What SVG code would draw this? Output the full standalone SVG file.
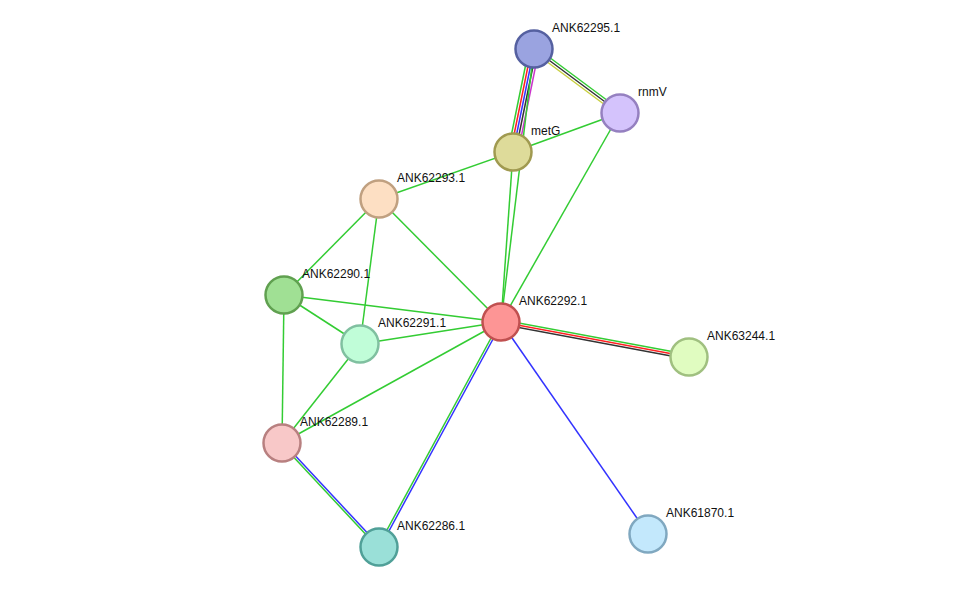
<svg xmlns="http://www.w3.org/2000/svg" width="975" height="593" viewBox="0 0 975 593">
<style>
  .e line { stroke-width: 1.5; fill: none; }
  .g { stroke: #33cc33; }
  .r { stroke: #ff2020; }
  .b { stroke: #3333ff; }
  .k { stroke: #333333; }
  .m { stroke: #cc33cc; }
  .y { stroke: #c8d040; }
  .n circle { stroke-width: 2.5; }
  .n text { font-family: "Liberation Sans", Arial, sans-serif; font-size: 12px; fill: #111; }
</style>
<rect width="975" height="593" fill="#ffffff"/>
<g id="edges" class="e">
  <line class="g" x1="529.1" y1="48.0" x2="508.1" y2="151.0"/>
  <line class="r" x1="531.6" y1="48.5" x2="510.6" y2="151.5"/>
  <line class="b" x1="534" y1="49" x2="513" y2="152"/>
  <line class="k" x1="536.4" y1="49.5" x2="515.4" y2="152.5"/>
  <line class="m" x1="538.9" y1="50.0" x2="517.9" y2="153.0"/>
  <line class="g" x1="535.5" y1="47.0" x2="621.5" y2="111.0"/>
  <line class="k" x1="534" y1="49" x2="620" y2="113"/>
  <line class="y" x1="532.5" y1="51.0" x2="618.5" y2="115.0"/>
  <line class="g" x1="513" y1="152" x2="620" y2="113"/>
  <line class="g" x1="513" y1="152" x2="379" y2="199"/>
  <line class="g" x1="513" y1="152" x2="501" y2="322"/>
  <line class="g" x1="534" y1="49" x2="501" y2="322"/>
  <line class="g" x1="620" y1="113" x2="501" y2="322"/>
  <line class="g" x1="379" y1="199" x2="284" y2="295"/>
  <line class="g" x1="379" y1="199" x2="360" y2="344"/>
  <line class="g" x1="379" y1="199" x2="501" y2="322"/>
  <line class="g" x1="284" y1="295" x2="501" y2="322"/>
  <line class="g" x1="284" y1="295" x2="360" y2="344"/>
  <line class="g" x1="284" y1="295" x2="282" y2="443"/>
  <line class="g" x1="360" y1="344" x2="501" y2="322"/>
  <line class="g" x1="360" y1="344" x2="282" y2="443"/>
  <line class="g" x1="282" y1="443" x2="501" y2="322"/>
  <line class="g" x1="501.4" y1="319.8" x2="689.4" y2="354.8"/>
  <line class="r" x1="501" y1="322" x2="689" y2="357"/>
  <line class="k" x1="500.6" y1="324.2" x2="688.6" y2="359.2"/>
  <line class="g" x1="500" y1="321.5" x2="378" y2="546.5"/>
  <line class="b" x1="502" y1="322.5" x2="380" y2="547.5"/>
  <line class="b" x1="501" y1="322" x2="648" y2="534"/>
  <line class="g" x1="281.2" y1="443.75" x2="378.2" y2="547.75"/>
  <line class="b" x1="282.8" y1="442.25" x2="379.8" y2="546.25"/>
</g>
<g id="n-ANK62295" class="n"><circle cx="534" cy="49" r="18.5" fill="#9aa3e0" stroke="#5560a0"/><text x="552" y="32">ANK62295.1</text></g>
<g id="n-rnmV" class="n"><circle cx="620" cy="113" r="18.5" fill="#d4c3fc" stroke="#9580c0"/><text x="638" y="96">rnmV</text></g>
<g id="n-metG" class="n"><circle cx="513" cy="152" r="18.5" fill="#dedb9a" stroke="#a09a50"/><text x="531" y="135">metG</text></g>
<g id="n-ANK62293" class="n"><circle cx="379" cy="199" r="18.5" fill="#fddfc3" stroke="#c0a080"/><text x="397" y="182">ANK62293.1</text></g>
<g id="n-ANK62290" class="n"><circle cx="284" cy="295" r="18.5" fill="#a0e094" stroke="#60a050"/><text x="302" y="278">ANK62290.1</text></g>
<g id="n-ANK62292" class="n"><circle cx="501" cy="322" r="18.5" fill="#fd9595" stroke="#c05050"/><text x="519" y="305">ANK62292.1</text></g>
<g id="n-ANK62291" class="n"><circle cx="360" cy="344" r="18.5" fill="#c0fdd8" stroke="#80c0a0"/><text x="378" y="327">ANK62291.1</text></g>
<g id="n-ANK63244" class="n"><circle cx="689" cy="357" r="18.5" fill="#e0fcc0" stroke="#a0c080"/><text x="707" y="340">ANK63244.1</text></g>
<g id="n-ANK62289" class="n"><circle cx="282" cy="443" r="18.5" fill="#f8c8c8" stroke="#b88080"/><text x="300" y="426">ANK62289.1</text></g>
<g id="n-ANK62286" class="n"><circle cx="379" cy="547" r="18.5" fill="#9ae0d8" stroke="#50a098"/><text x="397" y="530">ANK62286.1</text></g>
<g id="n-ANK61870" class="n"><circle cx="648" cy="534" r="18.5" fill="#c3e8fc" stroke="#80a8c0"/><text x="666" y="517">ANK61870.1</text></g>
</svg>
